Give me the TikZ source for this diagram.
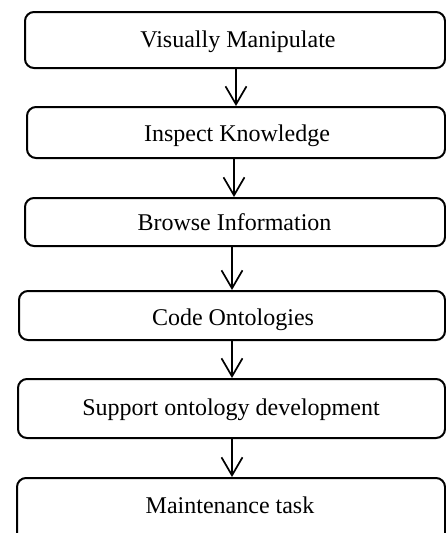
\documentclass[tikz,border=0pt]{standalone}
\usepackage{fontspec}
\setmainfont{Liberation Serif}
\usetikzlibrary{arrows.meta}
\begin{document}
\begin{tikzpicture}[x=1pt,y=-1pt,
  box/.style={draw=black,line width=2pt,rounded corners=9pt,inner sep=0pt,anchor=north west},
  lbl/.style={anchor=base,inner sep=0pt,font=\fontsize{24}{28}\selectfont},
  arr/.style={line width=1.7pt,-{Straight Barb[length=18pt,width=21pt,line width=1.7pt]}}]
\useasboundingbox (0,0) rectangle (445,533);
\node[box,minimum width=420pt,minimum height=56pt] (b1) at (24,11) {};
\node[box,minimum width=418pt,minimum height=51pt] (b2) at (26,106) {};
\node[box,minimum width=420pt,minimum height=48pt] (b3) at (24,197) {};
\node[box,minimum width=426pt,minimum height=49pt] (b4) at (18,290) {};
\node[box,minimum width=427pt,minimum height=59pt] (b5) at (17,378) {};
\node[box,minimum width=428pt,minimum height=70pt] (b6) at (16,477) {};
\node[lbl] (t1) at (238,47) {Visually Manipulate};
\node[lbl] (t2) at (237,141) {Inspect Knowledge};
\node[lbl] (t3) at (234.5,230) {Browse Information};
\node[lbl] (t4) at (233,325.5) {Code Ontologies};
\node[lbl] (t5) at (231,415) {Support ontology development};
\node[lbl] (t6) at (230,513) {Maintenance task};
\draw[arr] (b1.south -| 236,0) -- (b2.north -| 236,0);
\draw[arr] (b2.south -| 234,0) -- (b3.north -| 234,0);
\draw[arr] (b3.south -| 232,0) -- (b4.north -| 232,0);
\draw[arr] (b4.south -| 232,0) -- (b5.north -| 232,0);
\draw[arr] (b5.south -| 232,0) -- (b6.north -| 232,0);
\end{tikzpicture}
\end{document}
